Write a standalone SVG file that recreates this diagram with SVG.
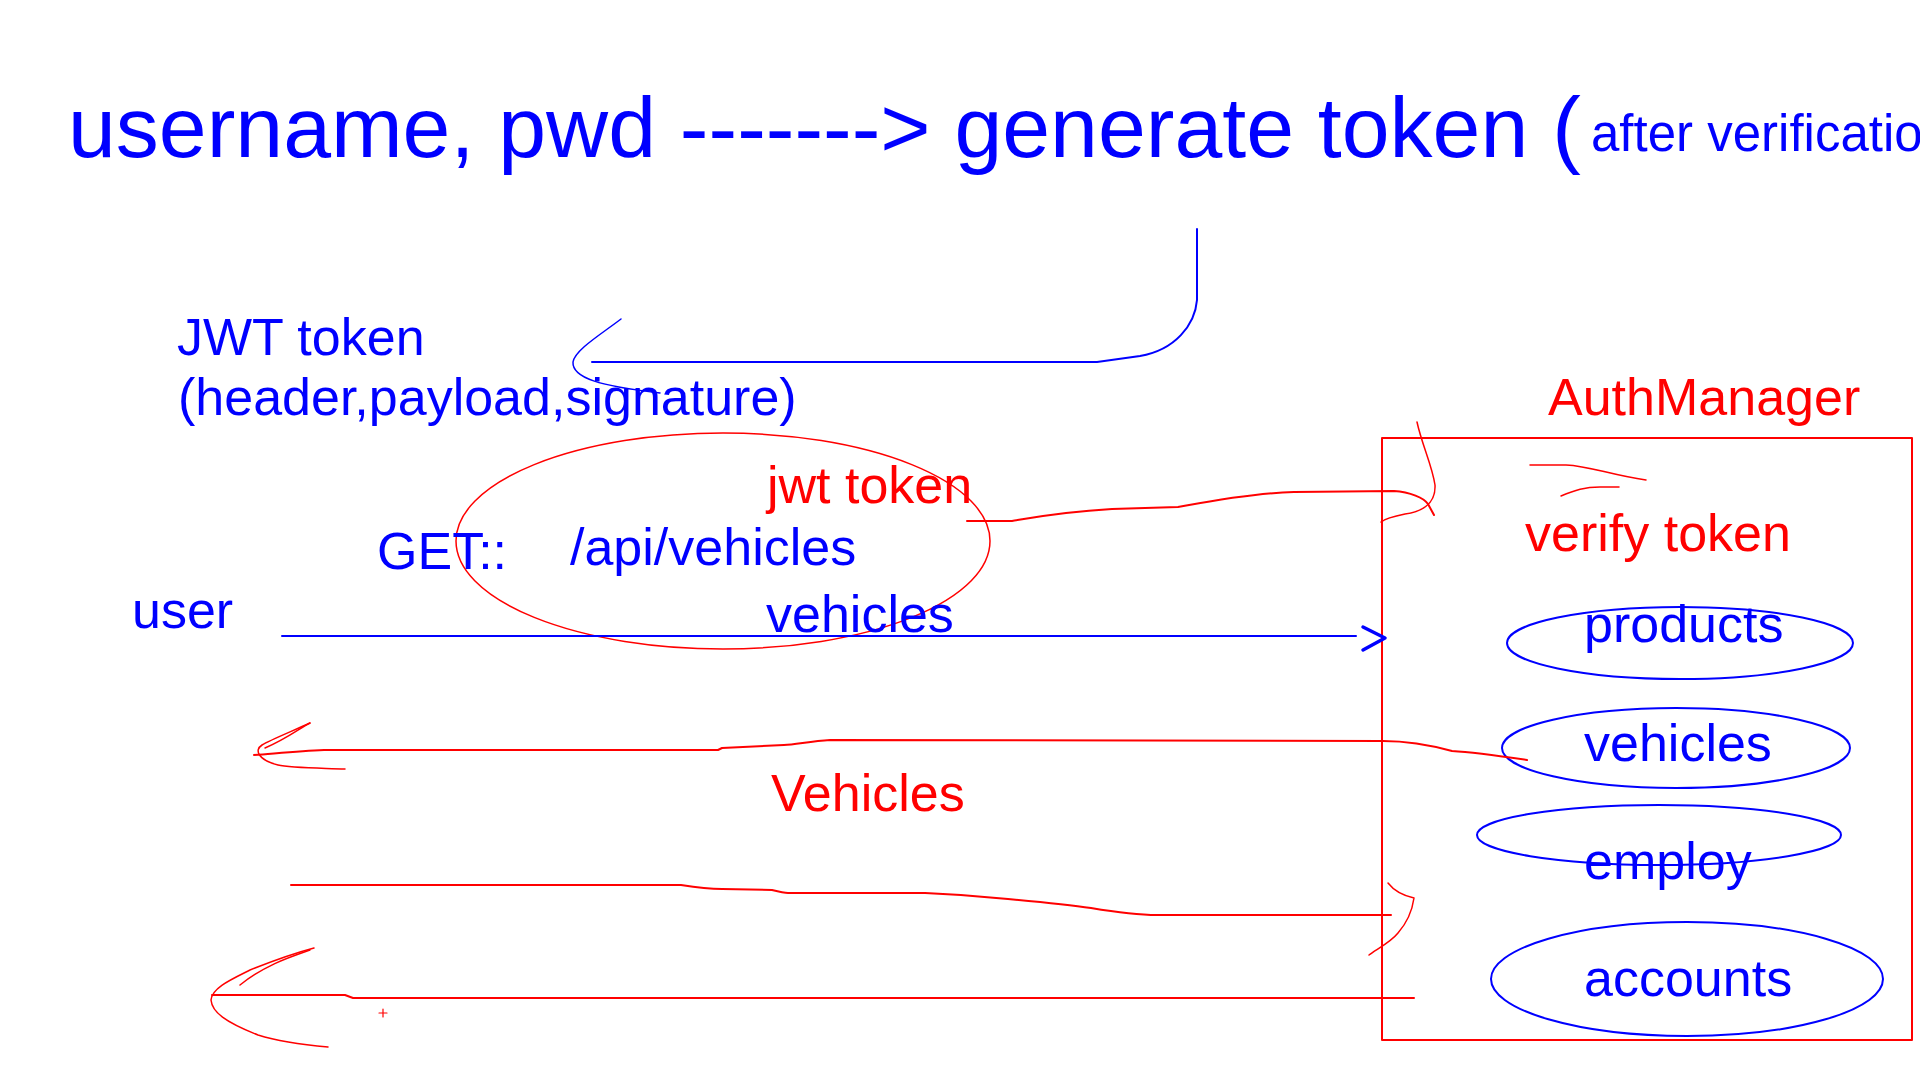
<svg xmlns="http://www.w3.org/2000/svg" width="1920" height="1080" viewBox="0 0 1920 1080">
<style>
text{font-family:"Liberation Sans",Arial,sans-serif;font-size:52px}
.b{fill:#0000FF}
.r{fill:#FF0000}
.bl{fill:none;stroke:#0000FF;stroke-width:2;stroke-linecap:round;stroke-linejoin:round}
.rl{fill:none;stroke:#FF0000;stroke-width:2;stroke-linecap:round;stroke-linejoin:round}
.thin{stroke-width:1.5}
</style>
<rect width="1920" height="1080" fill="#FFFFFF"/>
<g id="title">
<text class="b" x="68" y="157" style="font-size:86px">username, pwd -------&gt; generate token (</text>
<text class="b" x="1591" y="151" style="font-size:51px">after verificatio</text>
</g>
<g id="jwt-note">
<text class="b" x="177" y="355">JWT token</text>
<text class="b" x="178" y="415">(header,payload,signature)</text>
</g>
<g id="request">
<ellipse class="rl thin" cx="723" cy="541" rx="267" ry="108"/>
<text class="r" x="767" y="503">jwt token</text>
<text class="b" x="377" y="569">GET::</text>
<text class="b" x="570" y="565">/api/vehicles</text>
<text class="b" x="766" y="632">vehicles</text>
</g>
<g id="user">
<text class="b" x="132" y="628">user</text>
</g>
<g id="authmanager">
<text class="r" x="1548" y="415">AuthManager</text>
<rect class="rl" x="1382" y="438" width="530" height="602"/>
<text class="r" x="1525" y="551">verify token</text>
<path class="rl thin" d="M1530,465 L1566,465 C1590,466 1610,475 1646,480"/>
<path class="rl thin" d="M1561,496 C1575,490 1585,487 1600,487 L1619,487"/>
</g>
<g id="products">
<ellipse class="bl" cx="1680" cy="643" rx="173" ry="36"/>
<text class="b" x="1584" y="642">products</text>
</g>
<g id="vehicles">
<ellipse class="bl" cx="1676" cy="748" rx="174" ry="40"/>
<text class="b" x="1584" y="761">vehicles</text>
</g>
<g id="employ">
<ellipse class="bl" cx="1659" cy="835" rx="182" ry="30"/>
<text class="b" x="1584" y="879">employ</text>
</g>
<g id="accounts">
<ellipse class="bl" cx="1687" cy="979" rx="196" ry="57"/>
<text class="b" x="1584" y="996">accounts</text>
</g>
<g id="response-label">
<text class="r" x="771" y="811">Vehicles</text>
</g>
<g id="connectors">
<path class="bl" d="M1197,229 L1197,300 C1195,325 1175,350 1140,356 L1097,362 L592,362"/>
<path class="bl thin" d="M621,319 C600,335 575,350 573,362 C572,378 600,386 660,393"/>
<path class="bl" d="M282,636 L1356,636"/>
<polyline class="bl" style="stroke-width:3.5" points="1363,627 1385,638 1363,650"/>
<path class="rl" d="M967,521 L1012,521 C1030,518 1060,512 1112,509 L1178,507 C1200,503 1250,493 1294,492 L1394,491 C1410,492 1424,498 1428,504 L1434,515"/>
<path class="rl thin" d="M1417,422 C1422,445 1432,465 1435,485 C1436,505 1420,512 1405,514 C1395,516 1386,518 1381,522"/>
<path class="rl" d="M1527,760 C1500,756 1470,752 1452,751 C1430,745 1410,741 1383,741 L830,740 C810,741 795,745 784,745 L722,748 L718,750 L324,750 C300,751 280,753 254,755"/>
<path class="rl thin" d="M310,723 C295,730 270,740 262,745 C254,750 258,760 278,765 C290,768 320,768 345,769"/>
<path class="rl thin" d="M310,723 C300,728 288,738 265,748"/>
<path class="rl" d="M291,885 L681,885 C700,888 715,889 722,889 L772,890 C780,892 785,893 788,893 L925,893 C950,894 970,895 1008,899 C1040,902 1070,905 1091,908 C1115,912 1135,915 1157,915 L1391,915"/>
<path class="rl thin" d="M1388,883 C1395,892 1405,896 1414,898 C1412,912 1405,925 1398,933 C1390,943 1375,950 1369,955"/>
<path class="rl" d="M1414,998 L353,998 L345,995 L212,995"/>
<path class="rl thin" d="M314,948 C295,953 270,962 250,970 C230,980 212,988 211,1000 C212,1012 225,1022 258,1035 C280,1042 305,1045 328,1047"/>
<path class="rl thin" d="M310,950 C290,957 265,965 240,985"/>
<path class="rl" style="stroke-width:1.2" d="M379,1013 L387,1013 M383,1009 L383,1017"/>
</g>
</svg>
